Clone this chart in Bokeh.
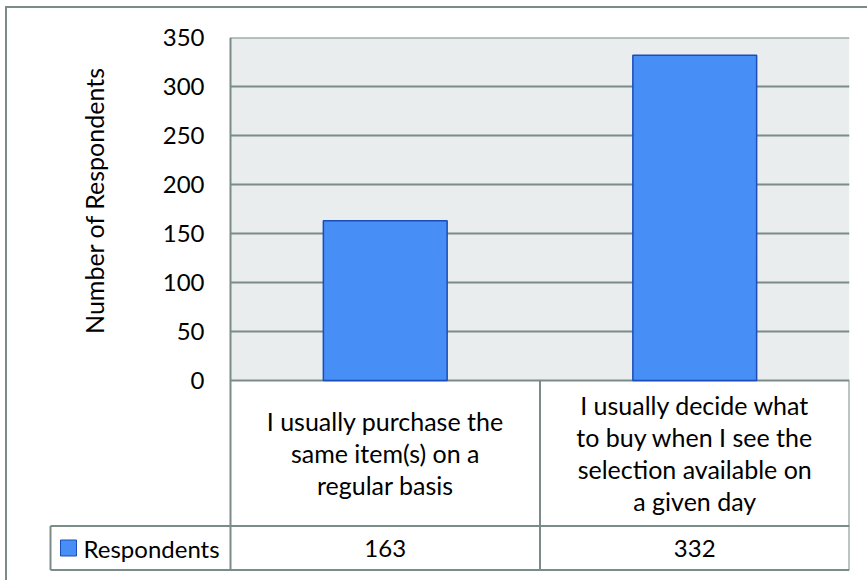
from bokeh.plotting import figure
from bokeh.layouts import column
from bokeh.models import Range1d, FixedTicker
from bokeh.embed import file_html
from bokeh.resources import INLINE
from bokeh.core.properties import value

# ---------------- data ----------------
categories = [
    "I usually purchase the same item(s) on a regular basis",
    "I usually decide what to buy when I see the selection available on a given day",
]
category_labels = [
    "I usually purchase the\nsame item(s) on a\nregular basis",
    "I usually decide what\nto buy when I see the\nselection available on\na given day",
]
respondents = [163, 332]
value_labels = ["163", "332"]
series_name = "Respondents"
y_ticks = [0, 50, 100, 150, 200, 250, 300, 350]
y_max = 350
y_title = "Number of Respondents"

# ---------------- style / layout (page pixels) ----------------
FONT = "Lato"
GRAY = "#7B8B89"
BAR_FILL = "#478EF7"
BAR_LINE = "#1A4DB8"
PLOT_BG = "#E9EDED"

PAGE_X0, PAGE_Y0 = 7, 8            # content origin after the page border
W, H = 867 - PAGE_X0, 580 - PAGE_Y0
FRAME_L, FRAME_R = 48, 849         # drawing frame (includes the legend cell)
PLOT_L = 230                       # left edge of the plot area / data table
FRAME_T, ZERO_PX, FRAME_B = 37, 380, 571
ROW_DIV_PX = 525.5                 # line between label row and value row
BOTTOM_LINE_PX = 569.5
LEGEND_CELL_L = 50
TICK_LABEL_RIGHT = 204
TITLE_X, TITLE_Y = 93, 200
BAR_WIDTH = 0.4

n = len(categories)
cat_px = (FRAME_R - PLOT_L) / n
units_per_px = y_max / (ZERO_PX - FRAME_T)


def x_at(px):
    """category coordinate (category i spans i..i+1) at a page pixel column"""
    return (px - PLOT_L) / cat_px


def y_at(px):
    """chart value at a page pixel row"""
    return (ZERO_PX - px) * units_per_px


cat_x = [i + 0.5 for i in range(n)]

p = figure(
    x_range=Range1d(x_at(FRAME_L), x_at(FRAME_R)),
    y_range=Range1d(y_at(FRAME_B), y_max),
    width=W, height=H,
    min_border_left=FRAME_L - PAGE_X0, min_border_right=867 - FRAME_R,
    min_border_top=FRAME_T - PAGE_Y0, min_border_bottom=580 - FRAME_B,
    x_axis_location=None,
    output_backend="svg", toolbar_location=None,
    background_fill_color="white", border_fill_color="white", outline_line_color=None,
)
p.grid.visible = False

# plot-area background
p.quad(left=[0], right=[n], bottom=[0], top=[y_max], fill_color=PLOT_BG,
       line_color=None, level="image")

# horizontal gridlines over the plot area
p.segment(x0=[0] * len(y_ticks), x1=[n] * len(y_ticks), y0=y_ticks, y1=y_ticks,
          line_color=GRAY, line_width=2, level="underlay")

# bars
p.vbar(x=cat_x, top=respondents, width=BAR_WIDTH,
       fill_color=BAR_FILL, line_color=BAR_LINE, line_width=1.5)

# y axis: only its tick labels, placed beside the plot area
ya = p.yaxis[0]
ya.ticker = FixedTicker(ticks=y_ticks)
ya.major_label_text_font = FONT
ya.major_label_text_font_size = "24px"
ya.major_label_text_color = "black"
ya.major_label_standoff = -(TICK_LABEL_RIGHT - FRAME_L)
ya.major_tick_line_color = None
ya.major_tick_out = 0
ya.major_tick_in = 0
ya.minor_tick_line_color = None
ya.axis_line_color = None

# y-axis title
p.text(x=[x_at(TITLE_X)], y=[y_at(TITLE_Y)], text=[y_title], angle=90, angle_units="deg",
       text_align="center", text_baseline="middle",
       text_font=value(FONT), text_font_size="25px", text_color="black")

# ---------------- data table ----------------
row_div = y_at(ROW_DIV_PX)
bottom = y_at(BOTTOM_LINE_PX)
leg_l = x_at(LEGEND_CELL_L)
# vertical lines: plot-area/table left edge, column separators, legend cell left
p.segment(x0=[0], y0=[y_max], x1=[0], y1=[bottom], line_color=GRAY, line_width=2)
p.segment(x0=list(range(1, n + 1)), y0=[0] * n, x1=list(range(1, n + 1)), y1=[bottom] * n,
          line_color=GRAY, line_width=2)
p.segment(x0=[leg_l], y0=[row_div], x1=[leg_l], y1=[bottom], line_color=GRAY, line_width=2)
# horizontal lines
p.segment(x0=[leg_l, leg_l], y0=[row_div, bottom], x1=[n, n], y1=[row_div, bottom],
          line_color=GRAY, line_width=2)

p.text(x=cat_x, y=[y_at((ZERO_PX + ROW_DIV_PX) / 2)] * n, text=category_labels,
       text_align="center", text_baseline="middle", text_line_height=1.07,
       text_font=value(FONT), text_font_size="25px", text_color="black")
val_y = y_at((ROW_DIV_PX + BOTTOM_LINE_PX) / 2)
p.text(x=cat_x, y=[val_y] * n, text=value_labels,
       text_align="center", text_baseline="middle",
       text_font=value(FONT), text_font_size="24px", text_color="black")

# legend key of the data table
p.scatter(x=[x_at(68)], y=[val_y], marker="square", size=16,
          fill_color=BAR_FILL, line_color=BAR_LINE, line_width=1)
p.text(x=[x_at(83)], y=[val_y], text=[series_name],
       text_align="left", text_baseline="middle",
       text_font=value(FONT), text_font_size="24px", text_color="black")

layout = column(p, styles={"border-top": f"2px solid {GRAY}", "border-left": f"2px solid {GRAY}",
                           "margin-left": "5px", "margin-top": "6px"})

open("out.html", "w").write(file_html(layout, INLINE))
